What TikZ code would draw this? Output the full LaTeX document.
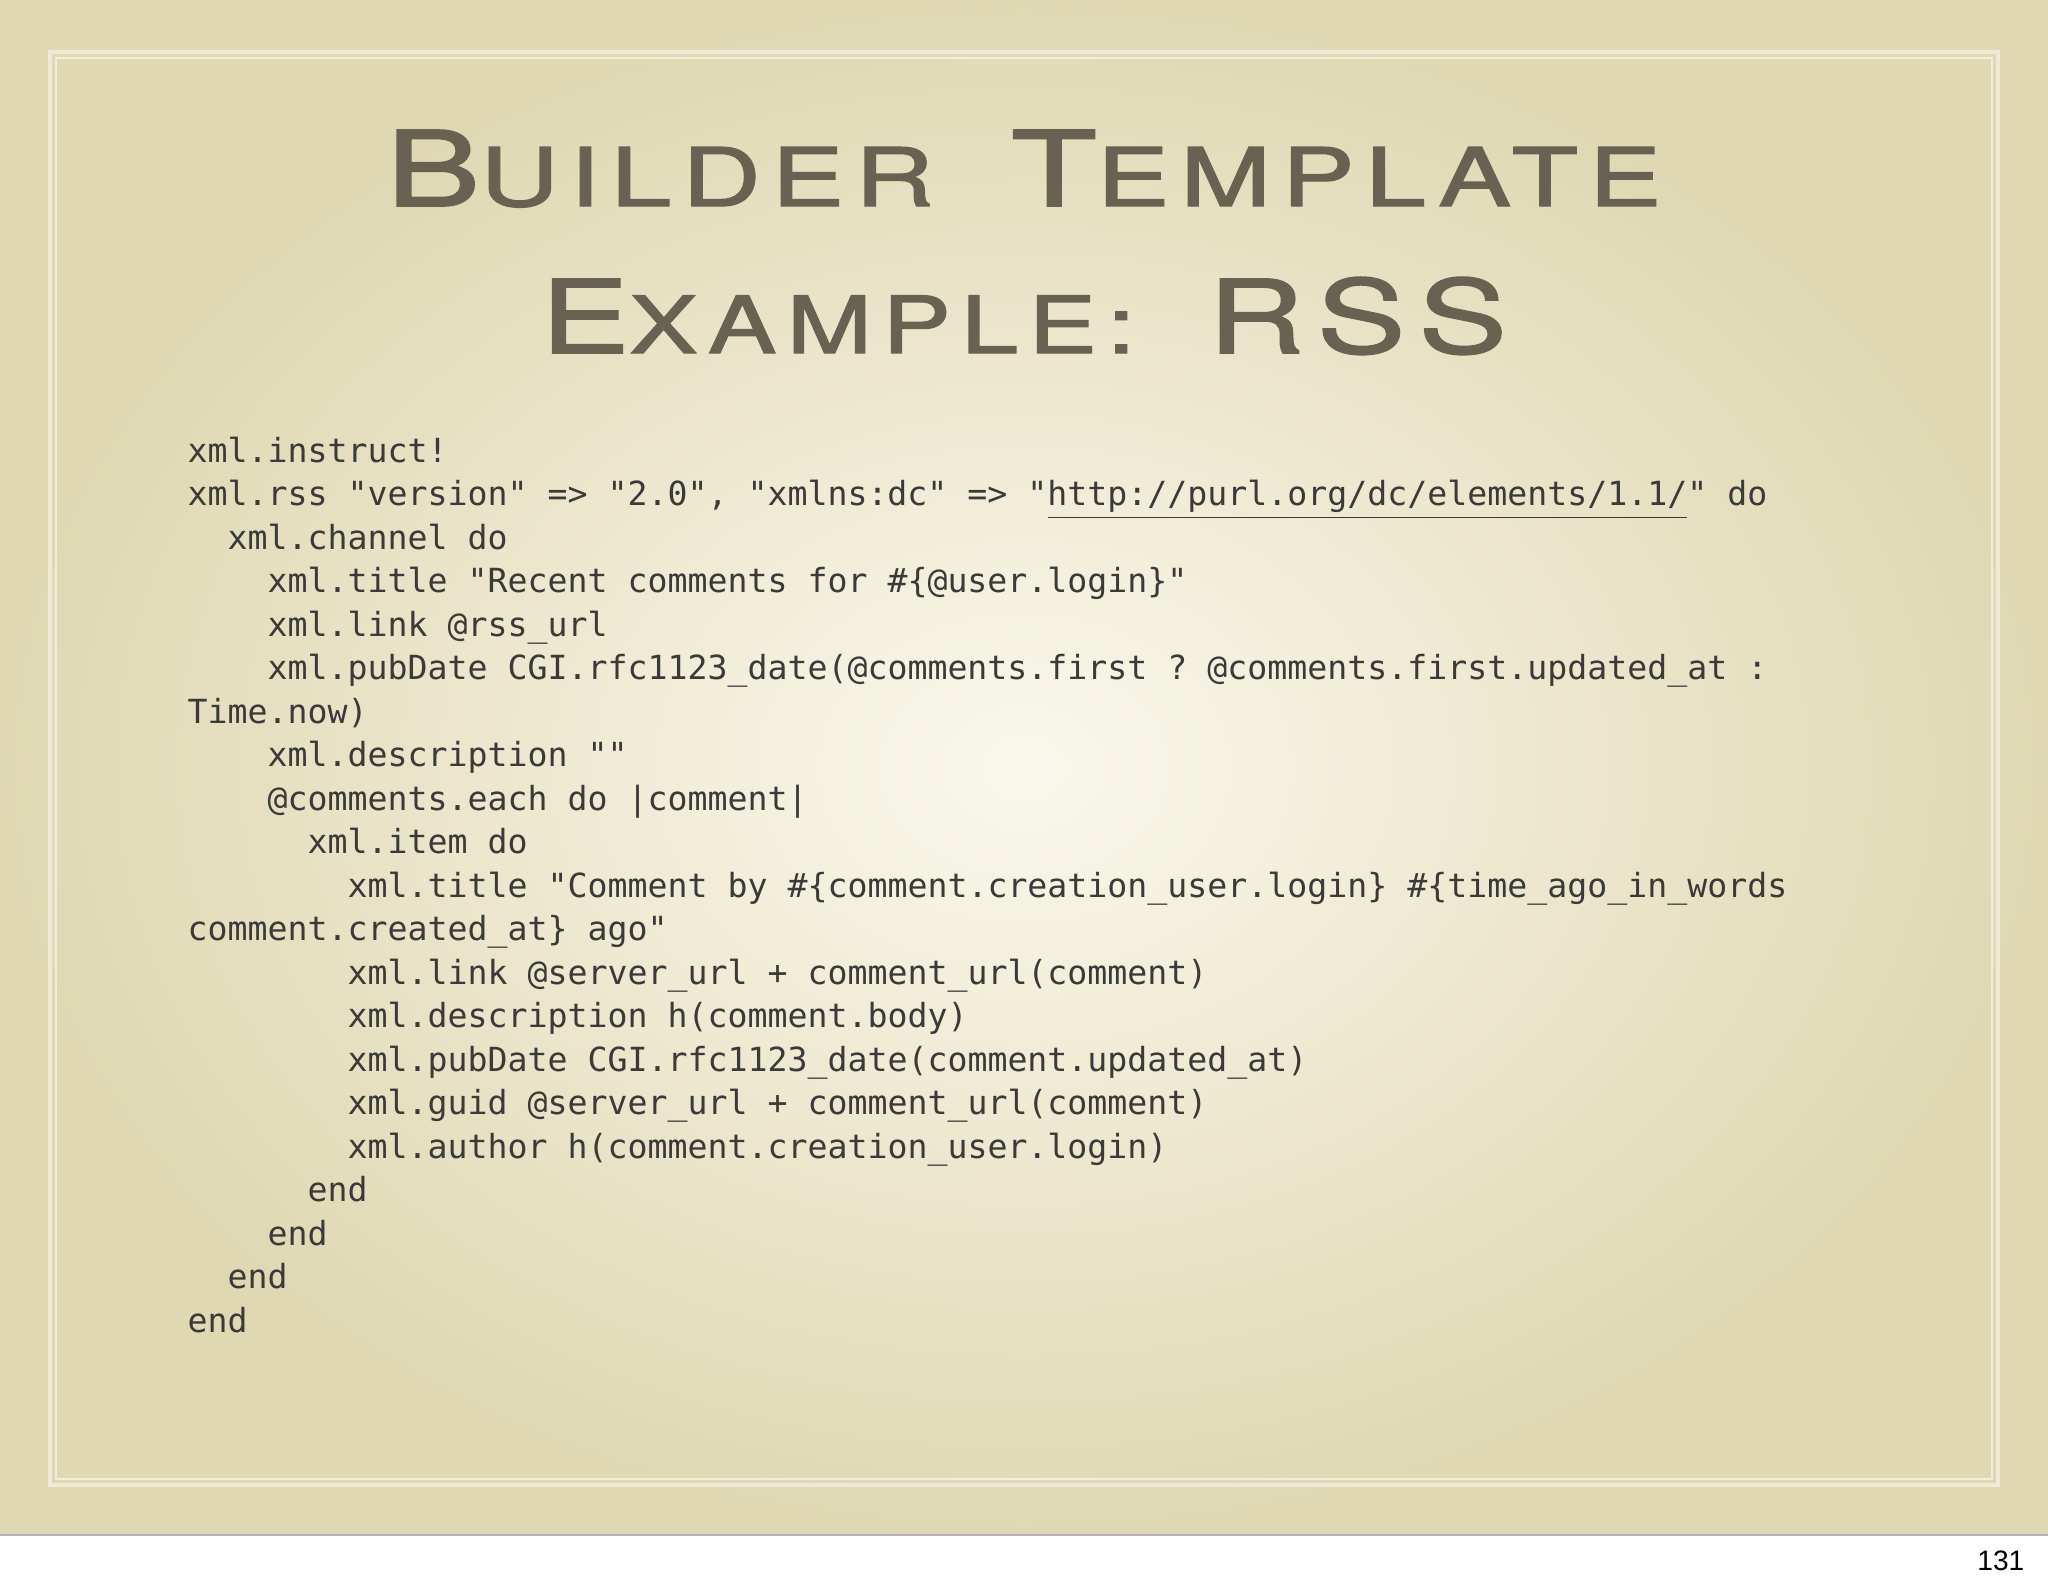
\documentclass[tikz,border=0pt]{standalone}
\usepackage{fontspec}
\setmonofont{DejaVu Sans Mono}
\newfontfamily\numfont{Liberation Sans}
\newfontfamily\ttlfont[LetterSpace=10,FakeBold=1.5]{TeX Gyre Heros}
\usepackage{graphicx}
\definecolor{bgin}{HTML}{FAF8EC}
\definecolor{bgout}{HTML}{DFD8B3}
\definecolor{frame}{HTML}{EEEAD6}
\definecolor{titlec}{HTML}{676252}
\definecolor{codec}{HTML}{3A3A38}
\tikzset{codeline/.style={anchor=base west,inner sep=0pt,font=\fontsize{9.45pt}{12pt}\ttfamily,text=codec},
titleline/.style={anchor=base,inner sep=0pt,text=titlec}}
\newcommand{\ind}[1]{\dimexpr 1.87cm+#1\dimexpr 0.2cm\relax\relax}
\newcommand{\fsc}[2]{{\fontsize{40pt}{40pt}\selectfont #1}{\fontsize{31pt}{31pt}\selectfont #2}}
\newcommand{\tsp}{\hspace{22pt}}
\begin{document}
\begin{tikzpicture}[x=1cm,y=1cm]
\useasboundingbox (0,0) rectangle (20.48,-15.87);
\fill[white] (0,0) rectangle (20.48,-15.87);
\shade[inner color=bgin,outer color=bgout] (0,0) rectangle (20.48,-15.35);
\draw[frame,line width=1.2pt] (0.5,-0.52) rectangle (19.98,-14.85);
\draw[frame!80!white,line width=0.5pt] (0.56,-0.58) rectangle (19.92,-14.79);
\draw[gray!60,line width=0.5pt] (0,-15.35) -- (20.48,-15.35);
\node[titleline] (t1) at (10.24,-2.06) {\resizebox{12.75cm}{0.76cm}{\ttlfont\fsc{B}{UILDER}\tsp\fsc{T}{EMPLATE}}};
\node[titleline] (t2) at (10.24,-3.53) {\resizebox{9.66cm}{0.76cm}{\ttlfont\fsc{E}{XAMPLE:}\tsp\fsc{RSS}{}}};
\node[codeline] (c1) at (\ind{0},-4.62) {xml.instruct!};
\node[codeline] (c2) at (\ind{0},-5.055) {xml.rss "version" => "2.0", "xmlns:dc" => "\underline{http://purl.org/dc/elements/1.1/}" do};
\node[codeline] (c3) at (\ind{2},-5.49) {xml.channel do};
\node[codeline] (c4) at (\ind{4},-5.925) {xml.title "Recent comments for \#\{@user.login\}"};
\node[codeline] (c5) at (\ind{4},-6.36) {xml.link @rss\_url};
\node[codeline] (c6) at (\ind{4},-6.795) {xml.pubDate CGI.rfc1123\_date(@comments.first ? @comments.first.updated\_at :};
\node[codeline] (c7) at (\ind{0},-7.23) {Time.now)};
\node[codeline] (c8) at (\ind{4},-7.665) {xml.description ""};
\node[codeline] (c9) at (\ind{4},-8.10) {@comments.each do |comment|};
\node[codeline] (c10) at (\ind{6},-8.535) {xml.item do};
\node[codeline] (c11) at (\ind{8},-8.97) {xml.title "Comment by \#\{comment.creation\_user.login\} \#\{time\_ago\_in\_words};
\node[codeline] (c12) at (\ind{0},-9.405) {comment.created\_at\} ago"};
\node[codeline] (c13) at (\ind{8},-9.84) {xml.link @server\_url + comment\_url(comment)};
\node[codeline] (c14) at (\ind{8},-10.275) {xml.description h(comment.body)};
\node[codeline] (c15) at (\ind{8},-10.71) {xml.pubDate CGI.rfc1123\_date(comment.updated\_at)};
\node[codeline] (c16) at (\ind{8},-11.145) {xml.guid @server\_url + comment\_url(comment)};
\node[codeline] (c17) at (\ind{8},-11.58) {xml.author h(comment.creation\_user.login)};
\node[codeline] (c18) at (\ind{6},-12.015) {end};
\node[codeline] (c19) at (\ind{4},-12.45) {end};
\node[codeline] (c20) at (\ind{2},-12.885) {end};
\node[codeline] (c21) at (\ind{0},-13.32) {end};
\node[anchor=base east,inner sep=0pt,font=\numfont\fontsize{8pt}{9pt}\selectfont] (pg) at (20.25,-15.70) {131};
\end{tikzpicture}
\end{document}
